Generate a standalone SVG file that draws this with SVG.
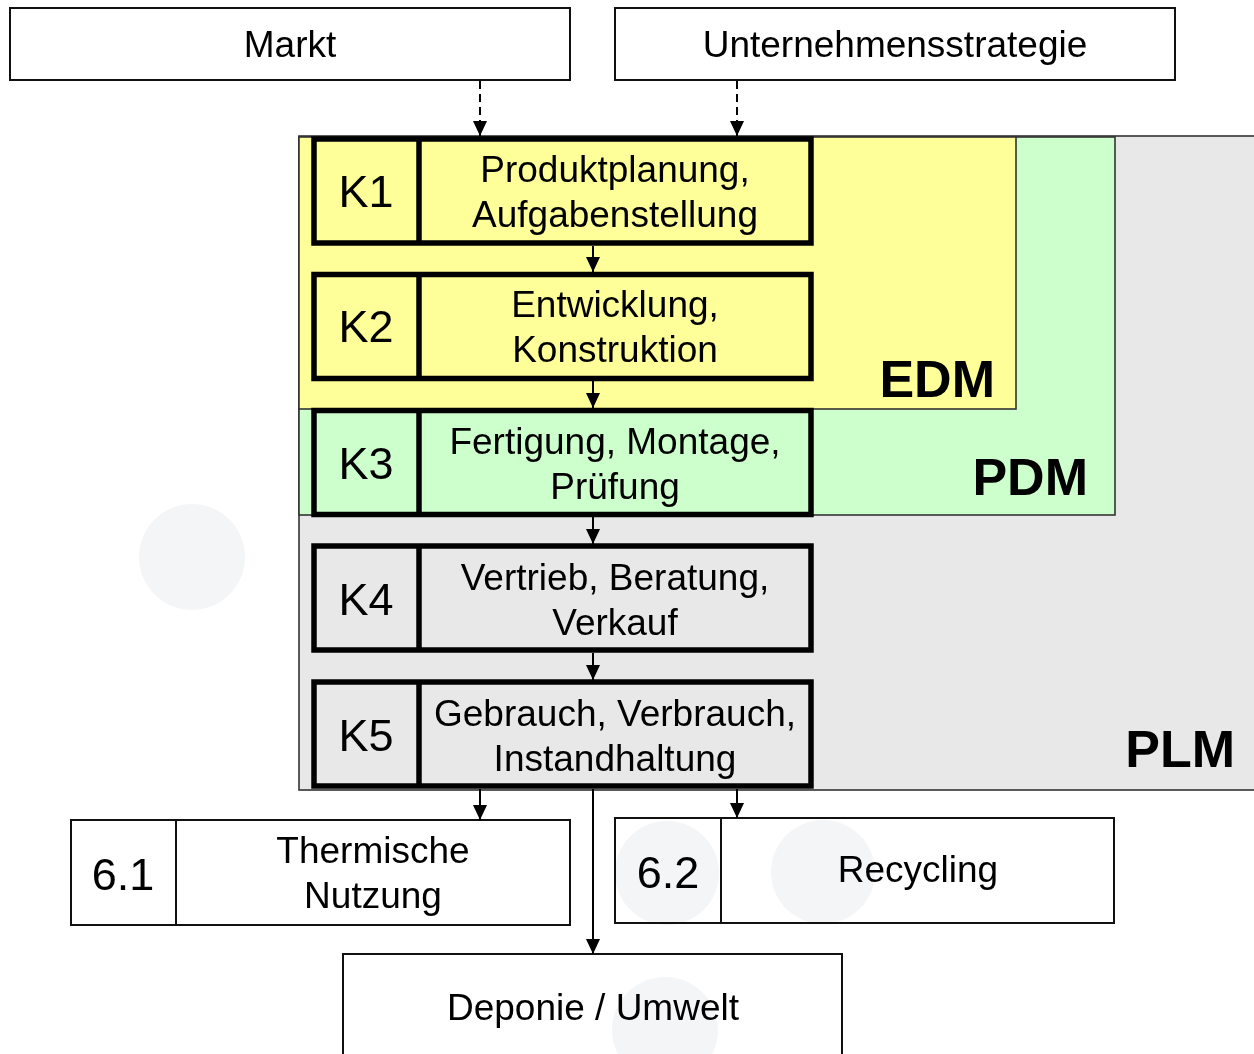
<svg xmlns="http://www.w3.org/2000/svg" width="1254" height="1054" viewBox="0 0 1254 1054">
  <defs>
    <style>
      text { font-family: "Liberation Sans", Arial, sans-serif; fill: #000; text-anchor: middle; }
      .t { font-size: 37px; }
      .k { font-size: 45px; }
      .zone { font-size: 52px; font-weight: bold; text-anchor: end; }
      .frame { stroke: #333; stroke-width: 1.6; }
      .box { fill: #fff; stroke: #111; stroke-width: 2; }
      .phase { fill: none; stroke: #000; stroke-width: 5.5; }
      .div { stroke: #000; stroke-width: 5.5; }
      .thin { stroke: #111; stroke-width: 2; }
      .flow { stroke: #000; stroke-width: 2; fill: none; marker-end: url(#head); }
      .dash { stroke-dasharray: 8 5; }
      .spot { fill: #f4f5f7; mix-blend-mode: multiply; }
    </style>
    <!-- filled triangular arrowhead, tip at the line end -->
    <marker id="head" viewBox="0 0 15 14" refX="15" refY="7" markerWidth="15" markerHeight="14" markerUnits="userSpaceOnUse" orient="auto">
      <path d="M0,0 L15,7 L0,14 Z" fill="#000"/>
    </marker>
  </defs>

  <!-- nested data management zones -->
  <g id="zone-plm">
    <rect x="299" y="136" width="980" height="654" fill="#e8e8e8" class="frame"/>
    <text class="zone" x="1235" y="767">PLM</text>
  </g>
  <g id="zone-pdm">
    <rect x="299" y="137" width="816" height="378" fill="#ccffcc" class="frame"/>
    <text class="zone" x="1088" y="495">PDM</text>
  </g>
  <g id="zone-edm">
    <rect x="299" y="137" width="717" height="272" fill="#ffff99" class="frame"/>
    <text class="zone" x="995" y="397">EDM</text>
  </g>

  <!-- inputs -->
  <g id="markt">
    <rect class="box" x="10" y="8" width="560" height="72"/>
    <text class="t" x="290" y="57">Markt</text>
  </g>
  <g id="strategie">
    <rect class="box" x="615" y="8" width="560" height="72"/>
    <text class="t" x="895" y="57">Unternehmensstrategie</text>
  </g>

  <!-- life cycle phases -->
  <g id="k1">
    <rect class="phase" x="314" y="139" width="497" height="104"/>
    <line class="div" x1="419" y1="139" x2="419" y2="243"/>
    <text class="k" x="366" y="207">K1</text>
    <text class="t" x="615" y="182">Produktplanung,</text>
    <text class="t" x="615" y="227">Aufgabenstellung</text>
  </g>
  <g id="k2">
    <rect class="phase" x="314" y="274.5" width="497" height="104"/>
    <line class="div" x1="419" y1="274.5" x2="419" y2="378.5"/>
    <text class="k" x="366" y="342">K2</text>
    <text class="t" x="615" y="317">Entwicklung,</text>
    <text class="t" x="615" y="362">Konstruktion</text>
  </g>
  <g id="k3">
    <rect class="phase" x="314" y="410.5" width="497" height="104"/>
    <line class="div" x1="419" y1="410.5" x2="419" y2="514.5"/>
    <text class="k" x="366" y="479">K3</text>
    <text class="t" x="615" y="454">Fertigung, Montage,</text>
    <text class="t" x="615" y="499">Prüfung</text>
  </g>
  <g id="k4">
    <rect class="phase" x="314" y="546" width="497" height="104"/>
    <line class="div" x1="419" y1="546" x2="419" y2="650"/>
    <text class="k" x="366" y="615">K4</text>
    <text class="t" x="615" y="590">Vertrieb, Beratung,</text>
    <text class="t" x="615" y="635">Verkauf</text>
  </g>
  <g id="k5">
    <rect class="phase" x="314" y="682" width="497" height="104"/>
    <line class="div" x1="419" y1="682" x2="419" y2="786"/>
    <text class="k" x="366" y="751">K5</text>
    <text class="t" x="615" y="726">Gebrauch, Verbrauch,</text>
    <text class="t" x="615" y="771">Instandhaltung</text>
  </g>

  <!-- end of life -->
  <g id="n61">
    <rect class="box" x="71" y="820" width="499" height="105"/>
    <line class="thin" x1="176" y1="820" x2="176" y2="925"/>
    <text class="k" x="123" y="890">6.1</text>
    <text class="t" x="373" y="863">Thermische</text>
    <text class="t" x="373" y="908">Nutzung</text>
  </g>
  <g id="n62">
    <rect class="box" x="615" y="818" width="499" height="105"/>
    <line class="thin" x1="721" y1="818" x2="721" y2="923"/>
    <text class="k" x="668" y="888">6.2</text>
    <text class="t" x="918" y="882">Recycling</text>
  </g>
  <g id="deponie">
    <rect class="box" x="343" y="954" width="499" height="120"/>
    <text class="t" x="593" y="1020">Deponie / Umwelt</text>
  </g>

  <!-- connectors -->
  <g id="connectors">
    <line class="flow dash" x1="480" y1="81" x2="480" y2="136"/>
    <line class="flow dash" x1="737" y1="81" x2="737" y2="136"/>

    <line class="flow" x1="593" y1="246" x2="593" y2="272"/>
    <line class="flow" x1="593" y1="381" x2="593" y2="408"/>
    <line class="flow" x1="593" y1="517" x2="593" y2="544"/>
    <line class="flow" x1="593" y1="653" x2="593" y2="680"/>

    <line class="flow" x1="480" y1="789" x2="480" y2="820"/>
    <line class="flow" x1="737" y1="789" x2="737" y2="818"/>
    <line class="flow" x1="593" y1="789" x2="593" y2="954"/>
  </g>

  <!-- pale round spots -->
  <g id="spots">
    <circle class="spot" cx="192" cy="557" r="53"/>
    <circle class="spot" cx="667" cy="873" r="52"/>
    <circle class="spot" cx="823" cy="872" r="52"/>
    <circle class="spot" cx="665" cy="1030" r="53"/>
  </g>
</svg>
